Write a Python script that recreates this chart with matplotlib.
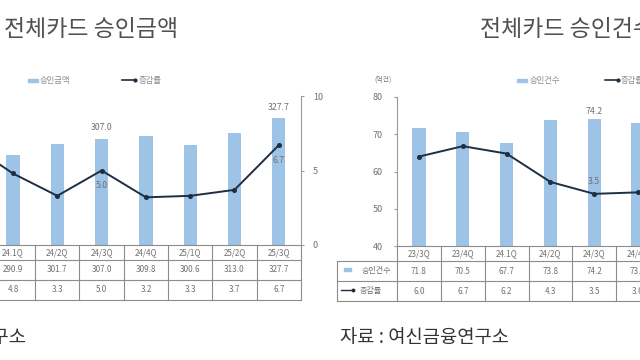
import matplotlib
matplotlib.use('Agg')
import matplotlib.pyplot as plt
from matplotlib.transforms import blended_transform_factory
from matplotlib.patches import Rectangle
from matplotlib.lines import Line2D

plt.rcParams['font.family'] = ['Noto Sans CJK KR', 'DejaVu Sans']

# ---------------- data ----------------
left_title = '전체카드 승인금액'
right_title = '전체카드 승인건수'
source_text = '자료 : 여신금융연구소'

left_quarters = ['23/4Q', '24.1Q', '24/2Q', '24/3Q', '24/4Q', '25/1Q', '25/2Q', '25/3Q']
left_amount = [300.2, 290.9, 301.7, 307.0, 309.8, 300.6, 313.0, 327.7]
left_rate = [6.8, 4.8, 3.3, 5.0, 3.2, 3.3, 3.7, 6.7]
left_bar_labels = {'24/3Q': '307.0', '25/3Q': '327.7'}
left_line_labels = {'24/3Q': '5.0', '25/3Q': '6.7'}

right_quarters = ['23/3Q', '23/4Q', '24.1Q', '24/2Q', '24/3Q', '24/4Q']
right_count = [71.8, 70.5, 67.7, 73.8, 74.2, 73.0]
right_rate = [6.0, 6.7, 6.2, 4.3, 3.5, 3.6]
right_bar_labels = {'24/3Q': '74.2'}
right_line_labels = {'24/3Q': '3.5'}

amount_legend = '승인금액'
count_legend = '승인건수'
rate_legend = '증감률'
count_unit = '(억건)'

# ---------------- style ----------------
W, H = 640, 360
BAR = '#9dc3e6'
LINE = '#1f2f42'
GRID = '#8c8c8c'
TXT = '#707070'
TFS = 5.8

fig = plt.figure(figsize=(6.4, 3.6), dpi=100)
fig.patch.set_facecolor('white')


def add_ax(x0, x1, ytop, ybot):
    return fig.add_axes([x0 / W, 1 - ybot / H, (x1 - x0) / W, (ybot - ytop) / H])


def fx(x):
    return x / W


def fy(y):
    return 1 - y / H


def style_axes(ax):
    for s in ax.spines.values():
        s.set_visible(False)
    ax.set_xticks([])
    ax.patch.set_alpha(0)


def draw_table(ax, cats, vals, rates, hpx, vfmt='{:.1f}'):
    n = len(cats)
    tr = blended_transform_factory(ax.transData, ax.transAxes)

    def yf(py):
        return -py / hpx
    for py in [0, 15, 35, 55]:
        ax.plot([-0.5, n - 0.5], [yf(py)] * 2, transform=tr, color=GRID,
                lw=0.8, clip_on=False, solid_capstyle='butt')
    for i in range(n + 1):
        ax.plot([i - 0.5] * 2, [0, yf(55)], transform=tr, color=GRID,
                lw=0.8, clip_on=False)
    for i, (c, v, r) in enumerate(zip(cats, vals, rates)):
        ax.text(i, yf(7.5), c, transform=tr, ha='center', va='center',
                fontsize=TFS, color=TXT, clip_on=False)
        ax.text(i, yf(25), vfmt.format(v), transform=tr, ha='center',
                va='center', fontsize=TFS, color=TXT, clip_on=False)
        ax.text(i, yf(45), '{:.1f}'.format(r), transform=tr, ha='center',
                va='center', fontsize=TFS, color=TXT, clip_on=False)
    return tr, yf


# ================= LEFT CHART =================
sp = 44.3
l_x0 = 13 - 1.5 * sp
axL = add_ax(l_x0, l_x0 + len(left_quarters) * sp, 96, 245)
style_axes(axL)
xl = list(range(len(left_quarters)))
axL.bar(xl, left_amount, width=0.3, color=BAR, zorder=2)
axL.set_xlim(-0.5, len(left_quarters) - 0.5)
axL.set_ylim(200, 350)
axL.set_yticks([])
axLb = axL.twinx()
style_axes(axLb)
axLb.spines['right'].set_visible(True)
axLb.spines['right'].set_color('#9a9a9a')
axLb.spines['right'].set_linewidth(0.8)
axLb.plot(xl, left_rate, color=LINE, lw=1.4, marker='o', ms=2.6, zorder=3)
axLb.set_ylim(0, 10)
axLb.set_yticks([0, 5, 10])
axLb.tick_params(axis='y', direction='out', length=2.5, width=0.8,
                 color='#9a9a9a', labelsize=6.5, labelcolor=TXT, pad=6)
for q, t in left_bar_labels.items():
    i = left_quarters.index(q)
    axL.annotate(t, (i, left_amount[i]), xytext=(0, 8), textcoords='offset points',
                 ha='center', va='center', fontsize=6.3, color=TXT)
for q, t in left_line_labels.items():
    i = left_quarters.index(q)
    axLb.annotate(t, (i, left_rate[i]), xytext=(0, -11), textcoords='offset points',
                  ha='center', va='center', fontsize=6.3, color=TXT)
draw_table(axL, left_quarters, left_amount, left_rate, 149)

# ================= RIGHT CHART =================
sp2 = 43.8
r_x0 = 419 - 0.5 * sp2
axR = add_ax(r_x0, r_x0 + len(right_quarters) * sp2, 97, 246)
style_axes(axR)
xr = list(range(len(right_quarters)))
axR.bar(xr, right_count, width=0.3, color=BAR, zorder=2)
axR.set_xlim(-0.5, len(right_quarters) - 0.5)
axR.set_ylim(40, 80)
axR.set_yticks([40, 50, 60, 70, 80])
axR.spines['left'].set_visible(True)
axR.spines['left'].set_color('#9a9a9a')
axR.spines['left'].set_linewidth(0.8)
axR.tick_params(axis='y', direction='out', length=2.5, width=0.8,
                color='#9a9a9a', labelsize=6.5, labelcolor=TXT, pad=8)
axRb = axR.twinx()
style_axes(axRb)
axRb.plot(xr, right_rate, color=LINE, lw=1.4, marker='o', ms=2.6, zorder=3)
axRb.set_ylim(0, 10)
axRb.set_yticks([])
for q, t in right_bar_labels.items():
    i = right_quarters.index(q)
    axR.annotate(t, (i, right_count[i]), xytext=(0, 5), textcoords='offset points',
                 ha='center', va='center', fontsize=6.3, color=TXT)
for q, t in right_line_labels.items():
    i = right_quarters.index(q)
    axRb.annotate(t, (i, right_rate[i]), xytext=(0, 9), textcoords='offset points',
                  ha='center', va='center', fontsize=6.3, color=TXT)
trR, yfR = draw_table(axR, right_quarters, right_count, right_rate, 149)
# label column of right table
lab_left = -0.5 - 60 / sp2
for py in [15, 35, 55]:
    axR.plot([lab_left, -0.5], [yfR(py)] * 2, transform=trR, color=GRID, lw=0.8, clip_on=False)
axR.plot([lab_left] * 2, [yfR(15), yfR(55)], transform=trR, color=GRID, lw=0.8, clip_on=False)

# label column entries (figure pixel coords)
fig.patches.append(Rectangle((fx(344), fy(271)), 7 / W, 3 / H, transform=fig.transFigure,
                             color=BAR))
fig.text(fx(376), fy(270), count_legend, ha='center', va='center', fontsize=TFS, color=TXT)
fig.lines.append(Line2D([fx(341), fx(353)], [fy(290), fy(290)], transform=fig.transFigure,
                        color=LINE, lw=1.0, marker='o', ms=1.8, markevery=[1]))
fig.text(fx(371), fy(290), rate_legend, ha='center', va='center', fontsize=TFS, color=TXT)

# ---------------- legends ----------------
fig.patches.append(Rectangle((fx(28), fy(81.5)), 10 / W, 3 / H, transform=fig.transFigure,
                             color=BAR))
fig.text(fx(40), fy(80), amount_legend, ha='left', va='center', fontsize=6, color='#8a8a8a')
fig.lines.append(Line2D([fx(122), fx(135)], [fy(80), fy(80)], transform=fig.transFigure,
                        color=LINE, lw=1.2, marker='o', ms=2, markevery=[1]))
fig.text(fx(139), fy(80), rate_legend, ha='left', va='center', fontsize=6, color='#8a8a8a')

fig.patches.append(Rectangle((fx(517), fy(81.5)), 10 / W, 3 / H, transform=fig.transFigure,
                             color=BAR))
fig.text(fx(530), fy(80), count_legend, ha='left', va='center', fontsize=6, color='#8a8a8a')
fig.lines.append(Line2D([fx(605), fx(618)], [fy(80), fy(80)], transform=fig.transFigure,
                        color=LINE, lw=1.2, marker='o', ms=2, markevery=[1]))
fig.text(fx(621), fy(80), rate_legend, ha='left', va='center', fontsize=6, color='#8a8a8a')
fig.text(fx(383), fy(80), count_unit, ha='center', va='center', fontsize=5, color=TXT)

# ---------------- titles & source ----------------
fig.text(fx(178), fy(30), left_title, ha='right', va='center', fontsize=16.5,
         color='#505050')
fig.text(fx(480), fy(29), right_title, ha='left', va='center', fontsize=16.5,
         color='#505050')
fig.text(fx(26), fy(337), source_text, ha='right', va='center', fontsize=13.5, color='#333333')
fig.text(fx(340), fy(337), source_text, ha='left', va='center', fontsize=13.5, color='#333333')

fig.savefig('out.png', dpi=100)
